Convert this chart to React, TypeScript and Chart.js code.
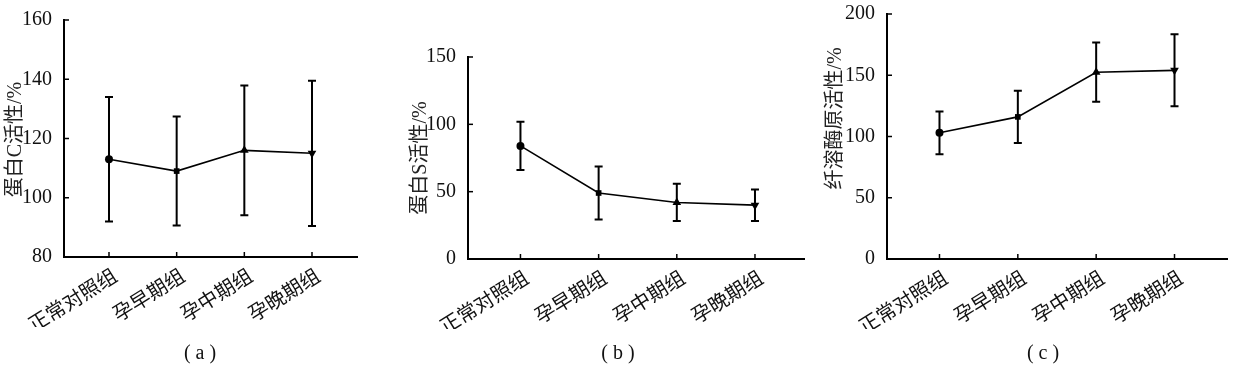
import React, { useEffect, useRef } from 'react';
import { Chart, registerables } from 'chart.js';

Chart.register(...registerables);

const categories = ['正常对照组', '孕早期组', '孕中期组', '孕晚期组'];

const proteinCMean = [113, 109, 116, 115];
const proteinCSd = [21, 18.4, 21.9, 24.5];

const proteinSMean = [84, 49, 42, 40];
const proteinSSd = [18, 19.7, 13.8, 11.7];

const plasminogenMean = [103, 116, 152.5, 154];
const plasminogenSd = [17.4, 21.4, 24.2, 29.4];

const pointStyles = ['circle', 'rect', 'triangle', 'triangle'];
const pointRotations = [0, 0, 0, 180];
const pointRadii = [4, 4, 5, 5];

const SERIF = '"Liberation Serif", "Noto Sans CJK SC", serif';

type PanelProps = {
  left: number;
  width: number;
  height: number;
  mean: number[];
  sd: number[];
  yMin: number;
  yMax: number;
  yStep: number;
  xMin: number;
  xMax: number;
  title: string;
  titleShift: number;
  yAxisWidth: number;
  padTop: number;
  padRight: number;
  padBottom: number;
};

function Panel(p: PanelProps) {
  const ref = useRef<HTMLCanvasElement>(null);
  useEffect(() => {
    const canvas = ref.current;
    if (!canvas) return;

    const errorBars = {
      id: 'errorBars',
      afterDatasetsDraw(chart: any) {
        const { ctx, scales } = chart;
        const x = scales.x;
        const y = scales.y;
        ctx.save();
        ctx.strokeStyle = '#000';
        ctx.lineWidth = 2;
        p.mean.forEach((m, i) => {
          const px = x.getPixelForValue(i);
          const top = y.getPixelForValue(m + p.sd[i]);
          const bot = y.getPixelForValue(m - p.sd[i]);
          ctx.beginPath();
          ctx.moveTo(px, top);
          ctx.lineTo(px, bot);
          ctx.moveTo(px - 4, top);
          ctx.lineTo(px + 4, top);
          ctx.moveTo(px - 4, bot);
          ctx.lineTo(px + 4, bot);
          ctx.stroke();
        });
        ctx.restore();
      },
    };

    const innerTicksAndTitle = {
      id: 'innerTicksAndTitle',
      afterDraw(chart: any) {
        const { ctx, scales, chartArea } = chart;
        const x = scales.x;
        const y = scales.y;
        ctx.save();
        ctx.strokeStyle = '#000';
        ctx.lineWidth = 1.5;
        y.ticks.forEach((t: any) => {
          const py = y.getPixelForValue(t.value);
          ctx.beginPath();
          ctx.moveTo(chartArea.left, py);
          ctx.lineTo(chartArea.left + 5, py);
          ctx.stroke();
        });
        x.ticks.forEach((t: any) => {
          const px = x.getPixelForValue(t.value);
          ctx.beginPath();
          ctx.moveTo(px, chartArea.bottom);
          ctx.lineTo(px, chartArea.bottom - 5);
          ctx.stroke();
        });
        // rotated y-axis title
        const cy = (chartArea.top + chartArea.bottom) / 2 + p.titleShift;
        ctx.translate(y.left + 16, cy);
        ctx.rotate(-Math.PI / 2);
        ctx.fillStyle = '#222';
        ctx.font = `20px ${SERIF}`;
        ctx.textAlign = 'center';
        ctx.textBaseline = 'middle';
        ctx.fillText(p.title, 0, 0);
        ctx.restore();
      },
    };

    const chart = new Chart(canvas, {
      type: 'line',
      data: {
        datasets: [
          {
            data: p.mean.map((v, i) => ({ x: i, y: v })),
            borderColor: '#000',
            backgroundColor: '#000',
            borderWidth: 1.6,
            pointStyle: pointStyles as any,
            rotation: pointRotations as any,
            pointRadius: pointRadii,
            pointBorderWidth: 0,
            pointBackgroundColor: '#000',
            tension: 0,
          } as any,
        ],
      },
      options: {
        animation: false,
        responsive: false,
        layout: {
          padding: { left: 0, top: p.padTop, right: p.padRight, bottom: p.padBottom },
        },
        plugins: {
          legend: { display: false },
          tooltip: { enabled: false },
        },
        scales: {
          x: {
            type: 'linear',
            min: p.xMin,
            max: p.xMax,
            afterBuildTicks: (ax: any) => {
              ax.ticks = categories.map((_, i) => ({ value: i }));
            },
            afterFit: (ax: any) => {
              ax.height = 70;
            },
            grid: { display: false },
            border: { display: true, color: '#000', width: 2 },
            ticks: {
              autoSkip: false,
              minRotation: 32,
              maxRotation: 32,
              padding: 0,
              labelOffset: 7,
              color: '#111',
              font: { family: SERIF, size: 20 },
              callback: (v: any) => categories[v as number] ?? '',
            },
          },
          y: {
            min: p.yMin,
            max: p.yMax,
            afterFit: (ax: any) => {
              ax.width = p.yAxisWidth;
            },
            grid: { display: false },
            border: { display: true, color: '#000', width: 2 },
            ticks: {
              stepSize: p.yStep,
              padding: 4,
              color: '#111',
              font: { family: SERIF, size: 20, lineHeight: 1 },
            },
            title: { display: false },
          },
        },
      },
      plugins: [errorBars, innerTicksAndTitle],
    } as any);
    return () => chart.destroy();
  }, []);
  return (
    <canvas
      ref={ref}
      width={p.width}
      height={p.height}
      style={{ position: 'absolute', left: p.left, top: 0, width: p.width, height: p.height }}
    />
  );
}

const captionStyle = (cx: number): React.CSSProperties => ({
  position: 'absolute',
  left: cx - 40,
  width: 80,
  top: 339,
  textAlign: 'center',
  fontFamily: SERIF,
  fontSize: 20,
  lineHeight: '26px',
  color: '#111',
  whiteSpace: 'pre',
});

export default function App() {
  return (
    <div style={{ position: 'absolute', left: 0, top: 0, width: 1245, height: 365, background: '#fff' }}>
      <Panel
        left={0}
        width={400}
        height={340}
        mean={proteinCMean}
        sd={proteinCSd}
        yMin={80}
        yMax={160}
        yStep={20}
        xMin={-0.665}
        xMax={3.665}
        title="蛋白C活性/%"
        titleShift={1}
        yAxisWidth={64}
        padTop={20}
        padRight={43}
        padBottom={13}
      />
      <Panel
        left={405}
        width={410}
        height={340}
        mean={proteinSMean}
        sd={proteinSSd}
        yMin={0}
        yMax={150}
        yStep={50}
        xMin={-0.671}
        xMax={3.627}
        title="蛋白S活性/%"
        titleShift={0}
        yAxisWidth={63}
        padTop={57}
        padRight={11}
        padBottom={11}
      />
      <Panel
        left={820}
        width={425}
        height={340}
        mean={plasminogenMean}
        sd={plasminogenSd}
        yMin={0}
        yMax={200}
        yStep={50}
        xMin={-0.67}
        xMax={3.67}
        title="纤溶酶原活性/%"
        titleShift={-18}
        yAxisWidth={67}
        padTop={10}
        padRight={18}
        padBottom={11}
      />
      <div style={captionStyle(200)}>( a )</div>
      <div style={captionStyle(618)}>( b )</div>
      <div style={captionStyle(1043)}>( c )</div>
    </div>
  );
}
